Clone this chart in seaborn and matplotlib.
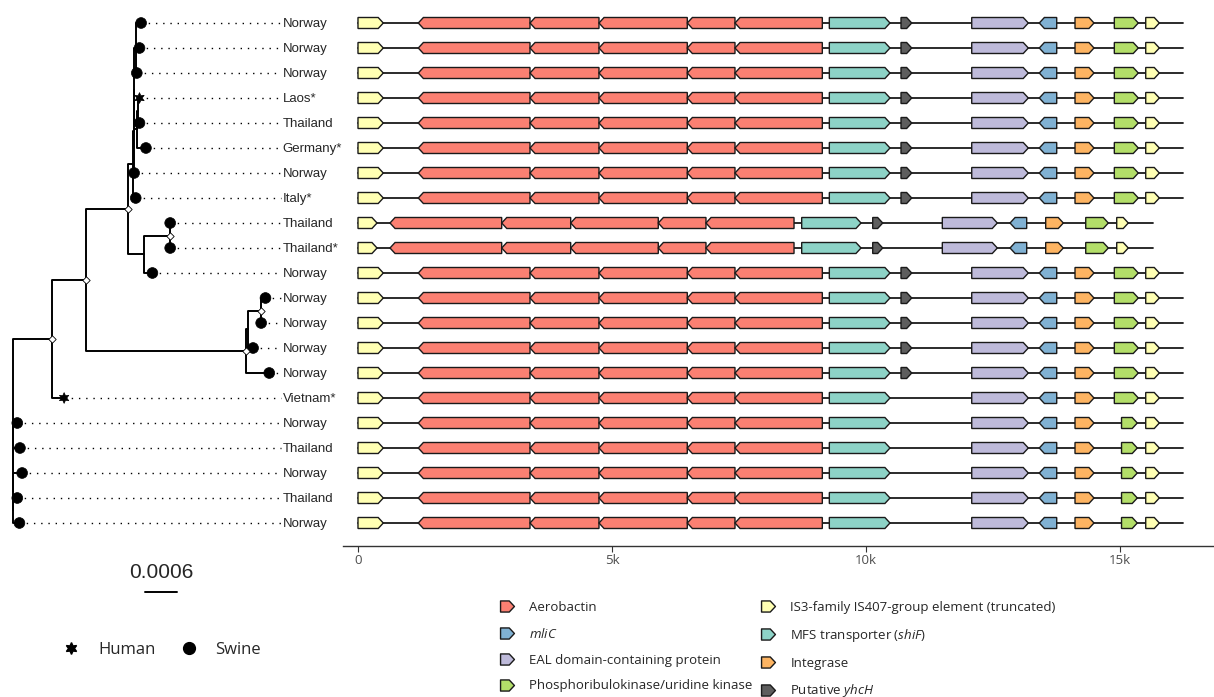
import numpy as np
import pandas as pd
import seaborn as sns
import matplotlib.pyplot as plt
from matplotlib.lines import Line2D
from matplotlib.path import Path

# Tips of the tree (top to bottom)
tip_labels = ["Norway", "Norway", "Norway", "Laos*", "Thailand", "Germany*", "Norway", "Italy*",
              "Thailand", "Thailand*", "Norway", "Norway", "Norway", "Norway", "Norway", "Vietnam*",
              "Norway", "Thailand", "Norway", "Thailand", "Norway"]
tip_host = ["Swine", "Swine", "Swine", "Human", "Swine", "Swine", "Swine", "Swine",
            "Swine", "Swine", "Swine", "Swine", "Swine", "Swine", "Swine", "Human",
            "Swine", "Swine", "Swine", "Swine", "Swine"]
# distance from root, in 1e-4 substitutions/site
tip_depth = [23.8, 23.5, 23.0, 23.5, 23.5, 24.7, 22.5, 22.8,
             29.2, 29.2, 25.9, 46.9, 46.1, 44.6, 47.6, 9.5,
             0.8, 1.3, 1.7, 0.8, 1.2]

# Internal nodes: children and depth
node_children = {
    "P": ["t0", "t1", "t2"], "Q1": ["t3", "t4"], "Q": ["Q1", "t5"], "E3": ["P", "Q"],
    "E2": ["E3", "t6"], "E": ["E2", "t7"], "G": ["t8", "t9"], "F": ["G", "t10"],
    "C": ["E", "F"], "H": ["t11", "t12"], "X": ["H", "t13"], "D": ["X", "t14"],
    "B": ["C", "D"], "A": ["B", "t15"], "R4": ["t19", "t20"], "R3": ["t18", "R4"],
    "R2": ["t17", "R3"], "R1": ["t16", "R2"], "root": ["A", "R1"],
}
node_depth = {"P": 22.9, "Q1": 23.2, "Q": 23.0, "E3": 22.5, "E2": 22.4, "E": 22.35,
              "G": 29.2, "F": 24.3, "C": 21.3, "H": 46.1, "X": 43.6, "D": 43.3,
              "B": 13.5, "A": 7.19, "R4": 0, "R3": 0, "R2": 0, "R1": 0, "root": 0}
supported_nodes = ["A", "B", "C", "G", "H", "D"]

# Gene layouts (start, end in bp; strand +1 forward / -1 reverse)
gene_types = {
    "IS3": "IS3-family IS407-group element (truncated)",
    "Aero": "Aerobactin",
    "MFS": "MFS transporter ($\\mathit{shiF}$)",
    "yhcH": "Putative $\\mathit{yhcH}$",
    "EAL": "EAL domain-containing protein",
    "mliC": "$\\mathit{mliC}$",
    "Int": "Integrase",
    "PRK": "Phosphoribulokinase/uridine kinase",
}
layout_A_gene = ["IS3", "Aero", "Aero", "Aero", "Aero", "Aero", "MFS", "yhcH", "EAL", "mliC", "Int", "PRK", "IS3"]
layout_A_start = [0, 1187, 3386, 4744, 6482, 7421, 9278, 10689, 12081, 13411, 14114, 14888, 15506]
layout_A_end = [498, 3386, 4744, 6482, 7421, 9140, 10472, 10900, 13195, 13754, 14488, 15360, 15774]
layout_A_strand = [1, -1, -1, -1, -1, -1, 1, 1, 1, -1, 1, 1, 1]
layout_A_len = 16234

layout_T_gene = layout_A_gene
layout_T_start = [0, 630, 2829, 4187, 5911, 6850, 8734, 10132, 11502, 12835, 13537, 14325, 14935]
layout_T_end = [375, 2829, 4187, 5911, 6850, 8583, 9902, 10329, 12585, 13163, 13884, 14770, 15163]
layout_T_strand = layout_A_strand
layout_T_len = 15644

layout_V_gene = ["IS3", "Aero", "Aero", "Aero", "Aero", "Aero", "MFS", "EAL", "mliC", "Int", "PRK", "IS3"]
layout_V_start = [0, 1187, 3386, 4744, 6482, 7421, 9278, 12081, 13411, 14114, 14888, 15506]
layout_V_end = [498, 3386, 4744, 6482, 7421, 9140, 10472, 13195, 13754, 14488, 15360, 15774]
layout_V_strand = [1, -1, -1, -1, -1, -1, 1, 1, -1, 1, 1, 1]
layout_V_len = 16234

layout_B_gene = layout_V_gene
layout_B_start = [0, 1187, 3386, 4744, 6482, 7421, 9278, 12081, 13411, 14114, 15030, 15506]
layout_B_end = [498, 3386, 4744, 6482, 7421, 9140, 10472, 13195, 13754, 14488, 15340, 15774]
layout_B_strand = layout_V_strand
layout_B_len = 16234

row_layout = ["A"] * 8 + ["T", "T"] + ["A"] * 5 + ["V"] + ["B"] * 5

layouts = {
    "A": (layout_A_gene, layout_A_start, layout_A_end, layout_A_strand, layout_A_len),
    "T": (layout_T_gene, layout_T_start, layout_T_end, layout_T_strand, layout_T_len),
    "V": (layout_V_gene, layout_V_start, layout_V_end, layout_V_strand, layout_V_len),
    "B": (layout_B_gene, layout_B_start, layout_B_end, layout_B_strand, layout_B_len),
}

set3 = sns.color_palette("Set3")
gene_colors = {"MFS": set3[0], "IS3": set3[1], "EAL": set3[2], "Aero": set3[3],
               "mliC": set3[4], "Int": set3[5], "PRK": set3[6], "yhcH": "#5e5e5e"}

sns.set_theme(style="white")
plt.rcParams["font.family"] = ["Open Sans", "DejaVu Sans"]
plt.rcParams["mathtext.fontset"] = "custom"
plt.rcParams["mathtext.rm"] = "Open Sans"
plt.rcParams["mathtext.it"] = "Open Sans:italic"

W, H = 1214, 697
fig = plt.figure(figsize=(W / 100, H / 100), dpi=100)
ax_tree = fig.add_axes([0, 0, 343 / W, 1])
ax_gene = fig.add_axes([343 / W, 1 - 546 / H, 1 - 343 / W, 546 / H])

# ---- tree ----
def node_y(n):
    if n.startswith("t"):
        return float(n[1:])
    return np.mean([node_y(c) for c in node_children[n]])

def depth(n):
    return tip_depth[int(n[1:])] if n.startswith("t") else node_depth[n]

for n, kids in node_children.items():
    x = node_depth[n]
    ys = [node_y(c) for c in kids]
    ax_tree.plot([x, x], [min(ys), max(ys)], color="black", lw=1.4, solid_capstyle="butt", zorder=2)
    for c, yc in zip(kids, ys):
        ax_tree.plot([x, depth(c)], [yc, yc], color="black", lw=1.4, zorder=2)

label_x = 50.1
for i, lab in enumerate(tip_labels):
    ax_tree.plot([tip_depth[i], label_x - 0.3], [i, i], color="black", lw=1.0,
                 ls=(0, (1, 4.2)), zorder=1)
    ax_tree.text(label_x, i + 0.04, lab, va="center", ha="left", fontsize=9.5,
                 family=["Liberation Sans", "DejaVu Sans"])

tips_df = pd.DataFrame({"x": tip_depth, "y": range(len(tip_labels)), "host": tip_host})
sns.scatterplot(data=tips_df, x="x", y="y", style="host",
                markers={"Human": (6, 1, 0), "Swine": "o"}, color="black", s=60,
                edgecolor="black", linewidth=0.5, legend=False, ax=ax_tree, zorder=3)

sup = pd.DataFrame({"x": [node_depth[n] for n in supported_nodes],
                    "y": [node_y(n) for n in supported_nodes]})
ax_tree.scatter(sup["x"], sup["y"], marker="D", s=14, facecolor="white",
                edgecolor="black", linewidth=0.6, zorder=4)

# scale bar
ax_tree.plot([24.5, 30.5], [22.76, 22.76], color="black", lw=1.4)
ax_tree.text(27.5, 22.0, "0.0006", ha="center", va="center", fontsize=15,
             family=["Liberation Sans", "DejaVu Sans"])

ax_tree.set_xlim(-2.41, 61.3)
ax_tree.set_ylim(26.96, -0.92)
ax_tree.axis("off")

# ---- genes ----
head_bp = 100
half_h = 0.22
for row, lay in enumerate(row_layout):
    g, s, e, st, total = layouts[lay]
    ax_gene.plot([0, total], [row, row], color="#1a1a1a", lw=1.3, zorder=1)
    for gi, a, b, d in zip(g, s, e, st):
        hd = min(head_bp, b - a)
        if d > 0:
            xs = [a, b - hd, b, b - hd, a]
        else:
            xs = [b, a + hd, a, a + hd, b]
        ys = [row - half_h, row - half_h, row, row + half_h, row + half_h]
        ax_gene.fill(xs, ys, facecolor=gene_colors[gi], edgecolor="#1a1a1a",
                     linewidth=1.0, joinstyle="miter", zorder=2)

ax_gene.set_xlim(-295, 16850)
ax_gene.set_ylim(20.92, -0.92)
ax_gene.set_xticks([0, 5000, 10000, 15000])
ax_gene.set_xticklabels(["0", "5k", "10k", "15k"], fontsize=9.5, color="#4d4d4d")
ax_gene.set_yticks([])
for sp in ["top", "right", "left"]:
    ax_gene.spines[sp].set_visible(False)
ax_gene.spines["bottom"].set_color("#333333")
ax_gene.spines["bottom"].set_linewidth(1.0)
ax_gene.tick_params(axis="x", bottom=True, length=4, width=0.8, color="#333333", pad=2)
ax_gene.set_xlabel("")
ax_gene.set_ylabel("")

# ---- legends ----
arrow_marker = Path([(-1, -0.8), (0.25, -0.8), (1, 0), (0.25, 0.8), (-1, 0.8), (-1, -0.8)],
                    [Path.MOVETO, Path.LINETO, Path.LINETO, Path.LINETO, Path.LINETO, Path.CLOSEPOLY])
legend_order = ["Aero", "mliC", "EAL", "PRK", "IS3", "MFS", "Int", "yhcH"]
gene_handles = [Line2D([], [], ls="none", marker=arrow_marker, markersize=10,
                       markerfacecolor=gene_colors[k], markeredgecolor="#1a1a1a",
                       markeredgewidth=1.0) for k in legend_order]
fig.legend(gene_handles, [gene_types[k] for k in legend_order], ncol=2,
           loc="upper left", bbox_to_anchor=(499 / W, 1 - 601 / H), frameon=False,
           fontsize=9.5, handlelength=1.2, handletextpad=1.1, labelspacing=0.97,
           columnspacing=0.55, borderpad=0, borderaxespad=0)

host_handles = [Line2D([], [], ls="none", marker=(6, 1, 0), markersize=8.5, color="black"),
                Line2D([], [], ls="none", marker="o", markersize=8.5, color="black")]
fig.legend(host_handles, ["Human", "Swine"], ncol=2, loc="center",
           bbox_to_anchor=(162 / W, 1 - 650 / H), frameon=False, fontsize=12,
           handlelength=1.0, handletextpad=1.1, columnspacing=1.5,
           borderpad=0, borderaxespad=0)

fig.savefig("out.png", dpi=100)
